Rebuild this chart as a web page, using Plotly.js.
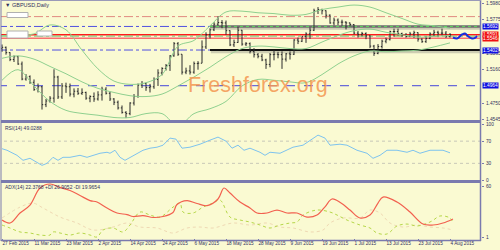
<!DOCTYPE html>
<html><head><meta charset="utf-8">
<script src="https://cdn.plot.ly/plotly-3.0.1.min.js"></script>
<style>html,body{margin:0;padding:0;background:#FAFAD2;overflow:hidden}#chart{width:500px;height:250px}</style>
</head><body><div id="chart"></div>
<script>
// ---------- DATA ----------
const dates = ["2015-02-27","2015-03-02","2015-03-03","2015-03-04","2015-03-05","2015-03-06","2015-03-09","2015-03-10","2015-03-11","2015-03-12","2015-03-13","2015-03-16","2015-03-17","2015-03-18","2015-03-19","2015-03-20","2015-03-23","2015-03-24","2015-03-25","2015-03-26","2015-03-27","2015-03-30","2015-03-31","2015-04-01","2015-04-02","2015-04-03","2015-04-06","2015-04-07","2015-04-08","2015-04-09","2015-04-10","2015-04-13","2015-04-14","2015-04-15","2015-04-16","2015-04-17","2015-04-20","2015-04-21","2015-04-22","2015-04-23","2015-04-24","2015-04-27","2015-04-28","2015-04-29","2015-04-30","2015-05-01","2015-05-04","2015-05-05","2015-05-06","2015-05-07","2015-05-08","2015-05-11","2015-05-12","2015-05-13","2015-05-14","2015-05-15","2015-05-18","2015-05-19","2015-05-20","2015-05-21","2015-05-22","2015-05-25","2015-05-26","2015-05-27","2015-05-28","2015-05-29","2015-06-01","2015-06-02","2015-06-03","2015-06-04","2015-06-05","2015-06-08","2015-06-09","2015-06-10","2015-06-11","2015-06-12","2015-06-15","2015-06-16","2015-06-17","2015-06-18","2015-06-19","2015-06-22","2015-06-23","2015-06-24","2015-06-25","2015-06-26","2015-06-29","2015-06-30","2015-07-01","2015-07-02","2015-07-03","2015-07-06","2015-07-07","2015-07-08","2015-07-09","2015-07-10","2015-07-13","2015-07-14","2015-07-15","2015-07-16","2015-07-17","2015-07-20","2015-07-21","2015-07-22","2015-07-23","2015-07-24","2015-07-27","2015-07-28","2015-07-29","2015-07-30","2015-07-31","2015-08-03","2015-08-04"];
const open  = [1.5420,1.5435,1.5370,1.5285,1.5320,1.5230,1.5045,1.5075,1.5005,1.4915,1.4950,1.4730,1.4775,1.4810,1.5070,1.4825,1.4960,1.4950,1.4860,1.4895,1.4870,1.4880,1.4810,1.4830,1.4800,1.4850,1.4920,1.4870,1.4800,1.4760,1.4690,1.4635,1.4620,1.4750,1.4830,1.4970,1.4990,1.4940,1.4950,1.5040,1.5120,1.5175,1.5210,1.5330,1.5480,1.5350,1.5130,1.5145,1.5130,1.5235,1.5240,1.5440,1.5590,1.5650,1.5720,1.5740,1.5735,1.5640,1.5465,1.5495,1.5645,1.5475,1.5480,1.5385,1.5345,1.5325,1.5280,1.5225,1.5345,1.5350,1.5345,1.5290,1.5355,1.5350,1.5525,1.5510,1.5570,1.5600,1.5645,1.5885,1.5900,1.5885,1.5830,1.5735,1.5770,1.5745,1.5745,1.5735,1.5715,1.5610,1.5595,1.5605,1.5575,1.5450,1.5360,1.5445,1.5510,1.5530,1.5630,1.5630,1.5605,1.5585,1.5570,1.5600,1.5615,1.5535,1.5505,1.5545,1.5600,1.5620,1.5610,1.5610,1.5570];
const high  = [1.5470,1.5445,1.5375,1.5335,1.5330,1.5260,1.5105,1.5090,1.5040,1.4990,1.4960,1.4800,1.4835,1.5165,1.5085,1.4995,1.5000,1.4990,1.4930,1.4935,1.4930,1.4890,1.4845,1.4880,1.4895,1.4950,1.4945,1.4890,1.4810,1.4780,1.4720,1.4650,1.4760,1.4860,1.4990,1.5020,1.5000,1.4985,1.5065,1.5165,1.5190,1.5230,1.5340,1.5500,1.5500,1.5350,1.5185,1.5215,1.5260,1.5265,1.5520,1.5620,1.5670,1.5745,1.5815,1.5770,1.5765,1.5645,1.5530,1.5685,1.5650,1.5500,1.5495,1.5425,1.5365,1.5355,1.5295,1.5365,1.5400,1.5380,1.5385,1.5365,1.5385,1.5535,1.5555,1.5570,1.5620,1.5680,1.5910,1.5930,1.5910,1.5890,1.5840,1.5800,1.5790,1.5775,1.5755,1.5740,1.5720,1.5635,1.5625,1.5620,1.5585,1.5465,1.5475,1.5530,1.5555,1.5640,1.5665,1.5665,1.5615,1.5610,1.5625,1.5640,1.5620,1.5545,1.5570,1.5620,1.5650,1.5640,1.5665,1.5635,1.5610];
const low   = [1.5380,1.5345,1.5265,1.5255,1.5220,1.5030,1.5025,1.4985,1.4900,1.4880,1.4670,1.4700,1.4755,1.4755,1.4800,1.4800,1.4875,1.4830,1.4820,1.4850,1.4850,1.4790,1.4760,1.4765,1.4780,1.4780,1.4855,1.4775,1.4725,1.4670,1.4620,1.4565,1.4600,1.4720,1.4815,1.4935,1.4900,1.4880,1.4925,1.4960,1.5090,1.5150,1.5145,1.5320,1.5330,1.5100,1.5105,1.5100,1.5110,1.5160,1.5240,1.5415,1.5545,1.5635,1.5700,1.5670,1.5590,1.5450,1.5440,1.5490,1.5455,1.5450,1.5360,1.5310,1.5300,1.5265,1.5170,1.5190,1.5275,1.5300,1.5170,1.5260,1.5285,1.5340,1.5475,1.5500,1.5490,1.5540,1.5635,1.5845,1.5840,1.5790,1.5725,1.5705,1.5710,1.5700,1.5655,1.5690,1.5595,1.5555,1.5570,1.5535,1.5425,1.5330,1.5350,1.5420,1.5485,1.5520,1.5565,1.5580,1.5565,1.5555,1.5560,1.5550,1.5505,1.5490,1.5490,1.5535,1.5575,1.5560,1.5580,1.5550,1.5555];
const close = [1.5435,1.5370,1.5285,1.5320,1.5230,1.5045,1.5075,1.5005,1.4915,1.4950,1.4730,1.4775,1.4810,1.5070,1.4825,1.4960,1.4950,1.4860,1.4895,1.4870,1.4880,1.4810,1.4830,1.4800,1.4850,1.4920,1.4870,1.4800,1.4760,1.4690,1.4635,1.4620,1.4750,1.4830,1.4970,1.4990,1.4940,1.4950,1.5040,1.5120,1.5175,1.5210,1.5330,1.5480,1.5350,1.5130,1.5145,1.5130,1.5235,1.5240,1.5440,1.5590,1.5650,1.5720,1.5740,1.5735,1.5640,1.5465,1.5495,1.5645,1.5475,1.5480,1.5385,1.5345,1.5325,1.5280,1.5225,1.5345,1.5350,1.5345,1.5290,1.5355,1.5350,1.5525,1.5510,1.5570,1.5600,1.5645,1.5885,1.5900,1.5885,1.5830,1.5735,1.5770,1.5745,1.5745,1.5735,1.5715,1.5610,1.5595,1.5605,1.5575,1.5450,1.5360,1.5445,1.5510,1.5530,1.5630,1.5630,1.5605,1.5585,1.5570,1.5600,1.5615,1.5535,1.5505,1.5545,1.5600,1.5620,1.5610,1.5610,1.5570,1.5591];

const tickDates  = ["2015-02-27","2015-03-11","2015-03-23","2015-04-02","2015-04-14","2015-04-24","2015-05-06","2015-05-18","2015-05-28","2015-06-09","2015-06-19","2015-07-01","2015-07-13","2015-07-23","2015-08-04"];
const tickLabels = ["27 Feb 2015","11 Mar 2015","23 Mar 2015","2 Apr 2015","14 Apr 2015","24 Apr 2015","6 May 2015","18 May 2015","28 May 2015","9 Jun 2015","19 Jun 2015","1 Jul 2015","13 Jul 2015","23 Jul 2015","4 Aug 2015"];

// Bollinger bands (bar index)
const bbIdx    = [0,4,8,12,16,20,24,28,32,36,40,44,48,52,56,60,64,68,72,76,80,84,88,92,96,100,104,108,112];
const bbUpper  = [1.5580,1.5590,1.5600,1.5710,1.5650,1.5400,1.5170,1.5020,1.4980,1.5000,1.5100,1.5450,1.5520,1.5700,1.5870,1.5880,1.5860,1.5850,1.5830,1.5840,1.5900,1.5930,1.5955,1.5930,1.5860,1.5790,1.5720,1.5700,1.5670];
const bbMiddle = [1.5300,1.5330,1.5290,1.5200,1.5110,1.5010,1.4930,1.4880,1.4840,1.4830,1.4860,1.4960,1.5070,1.5190,1.5320,1.5420,1.5450,1.5440,1.5420,1.5420,1.5500,1.5580,1.5640,1.5660,1.5620,1.5590,1.5560,1.5570,1.5580];
const bbLower  = [1.5030,1.5160,1.4960,1.4770,1.4660,1.4622,1.4600,1.4572,1.4572,1.4620,1.4620,1.4470,1.4620,1.4680,1.4770,1.4960,1.5040,1.5030,1.5010,1.5000,1.5100,1.5230,1.5330,1.5390,1.5380,1.5390,1.5400,1.5440,1.5490];

// RSI(14)
const rsiIdx = [0,1.25,3.75,5.25,7,8.75,10,11.25,12.75,14,15.25,17,19.5,21.25,22.75,24.5,26.25,27,28.25,29.5,30.75,32,33.75,35.25,37,38.75,40.25,42,43.5,45,47,49.5,52,54,56,57.5,59,60.5,62,64.5,65.75,67,69.5,71.25,72.75,75.25,77,79,80.75,82,84.5,86.25,88.75,90.25,91.25,92.75,94.5,96.25,98.75,101.25,102.75,104.5,107,110.25,112];
const rsiVal = [56.4,53.6,44.5,35.5,39.1,31.8,26.4,30.0,40.9,35.5,40.9,40.9,44.5,40.9,44.5,48.2,50.0,48.2,53.6,40.9,35.5,40.9,48.2,53.6,57.3,59.1,62.7,75.5,73.6,57.3,59.1,64.5,71.8,77.3,70.0,57.3,62.7,53.6,57.3,50.0,44.5,50.0,48.2,53.6,59.1,62.7,71.8,80.9,75.5,62.7,64.5,62.7,53.6,50.0,48.2,39.1,44.5,53.6,53.6,50.0,53.6,48.2,53.6,53.6,49.0];

// ADX(14), +DI, -DI
const adxIdx = [0,2,4.5,7,9.5,12,14.5,17,19.5,22,23.75,26.25,28.75,31.25,32.75,35.25,37.75,40.25,42.75,43.75,46.25,48.75,51.25,54,55.5,57,59.5,62,63.75,66.25,68.75,71.25,73.75,76.25,78.75,80.75,82.5,84.75,87,89.5,92,94,95.25,98.75,102,105.25,107.75,110.25,112.75];
const adxVal = [21.2,17.8,29.2,38.3,57.7,62.3,58.4,54.9,49.2,43.4,41.7,34.9,29.2,27.4,25.2,26.3,24.1,25.2,29.8,38.9,43.4,40.0,37.6,45.2,57.7,52.0,41.7,34.9,29.2,29.2,32.6,29.2,29.2,24.6,26.9,36.3,45.2,40.6,32.6,23.5,27.0,40.6,47.4,41.7,30.3,16.6,15.5,17.8,22.4];
const pdiIdx = [0,2,4.5,7,9.5,12,12.75,14.5,17,19.5,22,23.75,25.25,27.75,30.25,32,34.5,37,39.5,42.75,44.5,45.25,47.75,50.25,52.75,54.5,57,59.5,62,64.5,67,69.5,72,73.75,75.25,78.75,82,83.75,86.25,89.5,92,93.75,96.25,98.75,101.25,103.75,105.75,107.5,109.5,112,112.75];
const pdiVal = [15.5,12.1,7.6,6.4,4.1,4.1,7.6,6.4,4.1,6.4,4.1,1.8,9.8,12.1,7.6,15.5,30.3,26.9,24.6,35.9,40.5,30.3,29.2,35.9,40.5,44.0,24.6,21.2,18.9,15.5,12.1,15.5,17.8,18.9,26.9,32.6,30.3,26.9,21.2,15.5,12.1,6.4,5.3,14.4,16.6,14.4,16.6,20.1,25.8,23.5,17.8,15.5];
const mdiIdx = [0,4.5,7.75,10.25,14.5,18.75,22.75,27.75,31.25,34.5,38.75,42.75,46.25,49.5,52.75,57.75,62,66.25,69.5,72.75,77,80.25,82,85.25,89.5,92,94.5,97,100.25,103.75,107,110.25,112.75];
const mdiVal = [23.5,35.9,40.5,34.9,24.6,17.8,9.8,13.2,17.8,13.2,12.1,6.4,12.1,13.2,12.1,17.8,15.5,17.8,13.2,12.1,7.6,9.8,17.8,23.5,23.5,32.6,29.2,17.8,13.2,15.5,13.2,12.1,9.8];

// projected path after the last bar
const projIdx = [112.75,113.75,115,115.75,116.5,117.5,118.25,118.75];
const projVal = [1.5556,1.5544,1.5593,1.5606,1.5572,1.5544,1.5551,1.5576];

const priceTicks = [1.5980,1.5775,1.5365,1.5160,1.4750,1.4545];
const rsiTicks = [0,30,70,100];
const rsiLevels = [30,70];
const adxTicks = [1,60];
// horizontal levels
const resistLevel = 1.5813, upperLevel = 1.5692, bidLevel = 1.5591, pivotLevel = 1.5573, askLevel = 1.5546, lowerLevel = 1.5402, supportLevel = 1.4964;
const levelStartDate = "2015-05-12";
const priceBoxes = [[upperLevel,"1.5692","#1010E0"],[bidLevel,"1.5591","#F01010"],[askLevel,"1.5546","#F01010"],[lowerLevel,"1.5402","#1010E0"],[supportLevel,"1.4964","#1010E0"]];

// ---------- LAYOUT HELPERS ----------
const W=500,H=250,ML=1,MR=19,MT=0,MB=12;
const PW=W-ML-MR, PH=H-MT-MB;
const px = x => (x-ML)/PW;
const py = y => (H-MB-y)/PH;
const barX = dates.map((d,i)=>i);
const lvStart = dates.indexOf(levelStartDate);
const sep = '#7A7AAE';
const txt = '#303060';
const F = 'Liberation Sans, Arial, sans-serif';

const traces = [
  {type:'scatter',mode:'lines',x:bbIdx,y:bbUpper,line:{color:'#8FD08F',width:1,shape:'spline'},xaxis:'x',yaxis:'y',hoverinfo:'skip'},
  {type:'scatter',mode:'lines',x:bbIdx,y:bbMiddle,line:{color:'#8FD08F',width:1,shape:'spline'},xaxis:'x',yaxis:'y',hoverinfo:'skip'},
  {type:'scatter',mode:'lines',x:bbIdx,y:bbLower,line:{color:'#8FD08F',width:1,shape:'spline'},xaxis:'x',yaxis:'y',hoverinfo:'skip'},
  {type:'ohlc',x:barX,open:open,high:high,low:low,close:close,xaxis:'x',yaxis:'y',tickwidth:0.3,
    increasing:{line:{color:'#2a2a2a',width:1}},decreasing:{line:{color:'#2a2a2a',width:1}},hoverinfo:'skip'},
  {type:'scatter',mode:'lines',x:projIdx,y:projVal,line:{color:'#1530E0',width:2,shape:'spline'},xaxis:'x',yaxis:'y',hoverinfo:'skip'},
  {type:'scatter',mode:'lines',x:rsiIdx,y:rsiVal,line:{color:'#7EC3EE',width:1},xaxis:'x',yaxis:'y2',hoverinfo:'skip'},
  {type:'scatter',mode:'lines',x:mdiIdx,y:mdiVal,line:{color:'#EFD9B4',width:1,dash:'dot',shape:'spline'},xaxis:'x',yaxis:'y3',hoverinfo:'skip'},
  {type:'scatter',mode:'lines',x:pdiIdx,y:pdiVal,line:{color:'#B5D648',width:1,dash:'dot',shape:'spline'},xaxis:'x',yaxis:'y3',hoverinfo:'skip'},
  {type:'scatter',mode:'lines',x:adxIdx,y:adxVal,line:{color:'#F2604F',width:1.2,shape:'spline'},xaxis:'x',yaxis:'y3',hoverinfo:'skip'}
];

const hline = (y,color,width,dash,x0,yref) => ({type:'line',xref:'x',yref:yref||'y',x0:(x0===undefined?-1:x0),x1:130,y0:y,y1:y,line:{color,width,dash},layer:'below'});
const shapes = [
  hline(resistLevel,'#E08A80',1,'dashdot'),
  hline(upperLevel,'#5050E0',1,'dashdot'),
  hline(lowerLevel,'#5050E0',1,'dashdot'),
  hline(supportLevel,'#6A6AD8',1.2,'dash'),
  hline(bidLevel,'#FF1A1A',1.5,'solid'),
  hline(pivotLevel,'#70C870',1,'dashdot'),
  hline(askLevel,'#F87070',1.5,'solid'),
  {type:'line',xref:'x',yref:'y',x0:lvStart+0.2,x1:130,y0:upperLevel-0.0022,y1:upperLevel-0.0022,line:{color:'rgba(120,120,120,0.35)',width:3},layer:'below'},
  {type:'line',xref:'x',yref:'y',x0:lvStart,x1:130,y0:upperLevel,y1:upperLevel,line:{color:'#6E6E6E',width:2.5},layer:'below'},
  {type:'line',xref:'x',yref:'y',x0:lvStart,x1:130,y0:upperLevel,y1:upperLevel,line:{color:'#5CD85C',width:1,dash:'dot'},layer:'below'},
  {type:'line',xref:'x',yref:'y',x0:lvStart+0.2,x1:130,y0:lowerLevel-0.0022,y1:lowerLevel-0.0022,line:{color:'rgba(120,120,120,0.35)',width:3},layer:'below'},
  {type:'line',xref:'x',yref:'y',x0:lvStart,x1:130,y0:lowerLevel,y1:lowerLevel,line:{color:'#111111',width:2},layer:'below'},
  hline(rsiLevels[0],'#C8C8B8',1,'dot',-1,'y2'),
  hline(rsiLevels[1],'#C8C8B8',1,'dot',-1,'y2'),
  {type:'line',xref:'paper',yref:'paper',x0:px(1),x1:px(1),y0:py(241),y1:1,line:{color:sep,width:1}},
  {type:'line',xref:'paper',yref:'paper',x0:px(480.5),x1:px(480.5),y0:py(241),y1:1,line:{color:sep,width:1.5}},
  {type:'line',xref:'paper',yref:'paper',x0:0,x1:1,y0:py(121.5),y1:py(121.5),line:{color:sep,width:3}},
  {type:'line',xref:'paper',yref:'paper',x0:0,x1:1,y0:py(181.5),y1:py(181.5),line:{color:sep,width:3}},
  {type:'line',xref:'paper',yref:'paper',x0:0,x1:1,y0:py(240.5),y1:py(240.5),line:{color:sep,width:1.5}},
  {type:'line',xref:'paper',yref:'paper',x0:0,x1:1,y0:py(0.5),y1:py(0.5),line:{color:'#9A9AB8',width:1}},
  {type:'rect',xref:'paper',yref:'paper',x0:px(7),x1:px(28),y0:py(17.5),y1:py(12.5),fillcolor:'#FFFFFF',line:{color:'#B0B0B0',width:1}},
  {type:'rect',xref:'paper',yref:'paper',x0:px(7),x1:px(28),y0:py(38),y1:py(31),fillcolor:'#FFFFFF',line:{color:'#B0B0B0',width:1}},
  {type:'rect',xref:'paper',yref:'paper',x0:px(37),x1:px(52),y0:py(36),y1:py(31),fillcolor:'#FFFFFF',line:{color:'#B0B0B0',width:1}}
];

const annotations = [
  {xref:'paper',yref:'paper',x:px(3),y:py(5),xanchor:'left',yanchor:'middle',text:'▼ GBPUSD,Daily',showarrow:false,font:{family:F,size:5.5,color:txt}},
  {xref:'paper',yref:'paper',x:px(3),y:py(128),xanchor:'left',yanchor:'middle',text:'RSI(14) 49.0288',showarrow:false,font:{family:F,size:5,color:txt}},
  {xref:'paper',yref:'paper',x:px(3),y:py(187),xanchor:'left',yanchor:'middle',text:'ADX(14) 22.3768 +DI 26.9052 -DI 19.9654',showarrow:false,font:{family:F,size:5,color:txt}},
  {xref:'paper',yref:'paper',x:px(258),y:py(85),xanchor:'center',yanchor:'middle',text:'Freshforex.org',showarrow:false,font:{family:F,size:21.5,color:'rgba(244,150,80,0.85)'}}
];
priceBoxes.forEach(b=>annotations.push({xref:'paper',yref:'y',x:px(481.5),y:b[0],xanchor:'left',yanchor:'middle',text:b[1],showarrow:false,
  bgcolor:b[2],borderpad:0,font:{family:F,size:4.8,color:'#FFFFFF'}}));

const axisFont = {family:F,size:4.8,color:txt};
const layout = {
  width:W,height:H,margin:{l:ML,r:MR,t:MT,b:MB,pad:0},
  paper_bgcolor:'#FAFAD2',plot_bgcolor:'#FAFAD2',showlegend:false,
  xaxis:{type:'linear',range:[-0.25,119.75],tickvals:tickDates.map(d=>dates.indexOf(d)),ticktext:tickLabels,tickangle:0,
    ticks:'outside',ticklen:2,tickcolor:sep,tickfont:{family:F,size:4.7,color:txt},ticklabelposition:'outside right',ticklabelstandoff:0,
    showgrid:false,zeroline:false,showline:false,rangeslider:{visible:false},anchor:'y3',fixedrange:true},
  yaxis:{domain:[py(121.5),1],range:[1.45229,1.60171],side:'right',tickvals:priceTicks,ticktext:priceTicks.map(v=>v.toFixed(4)),
    ticks:'outside',ticklen:2,tickcolor:sep,tickfont:axisFont,ticklabelstandoff:1,showgrid:false,zeroline:false,showline:false},
  yaxis2:{domain:[py(181.5),py(122.5)],range:[-2.7,103.6],side:'right',tickvals:rsiTicks,ticks:'outside',ticklen:2,tickcolor:sep,
    tickfont:axisFont,ticklabelstandoff:1,showgrid:false,zeroline:false,showline:false},
  yaxis3:{domain:[0,py(182.5)],range:[0.7,64],side:'right',tickvals:adxTicks,ticks:'outside',ticklen:2,tickcolor:sep,
    tickfont:axisFont,ticklabelstandoff:1,showgrid:false,zeroline:false,showline:false},
  shapes,annotations
};
Plotly.newPlot('chart',traces,layout,{staticPlot:true,displayModeBar:false});
</script></body></html>
